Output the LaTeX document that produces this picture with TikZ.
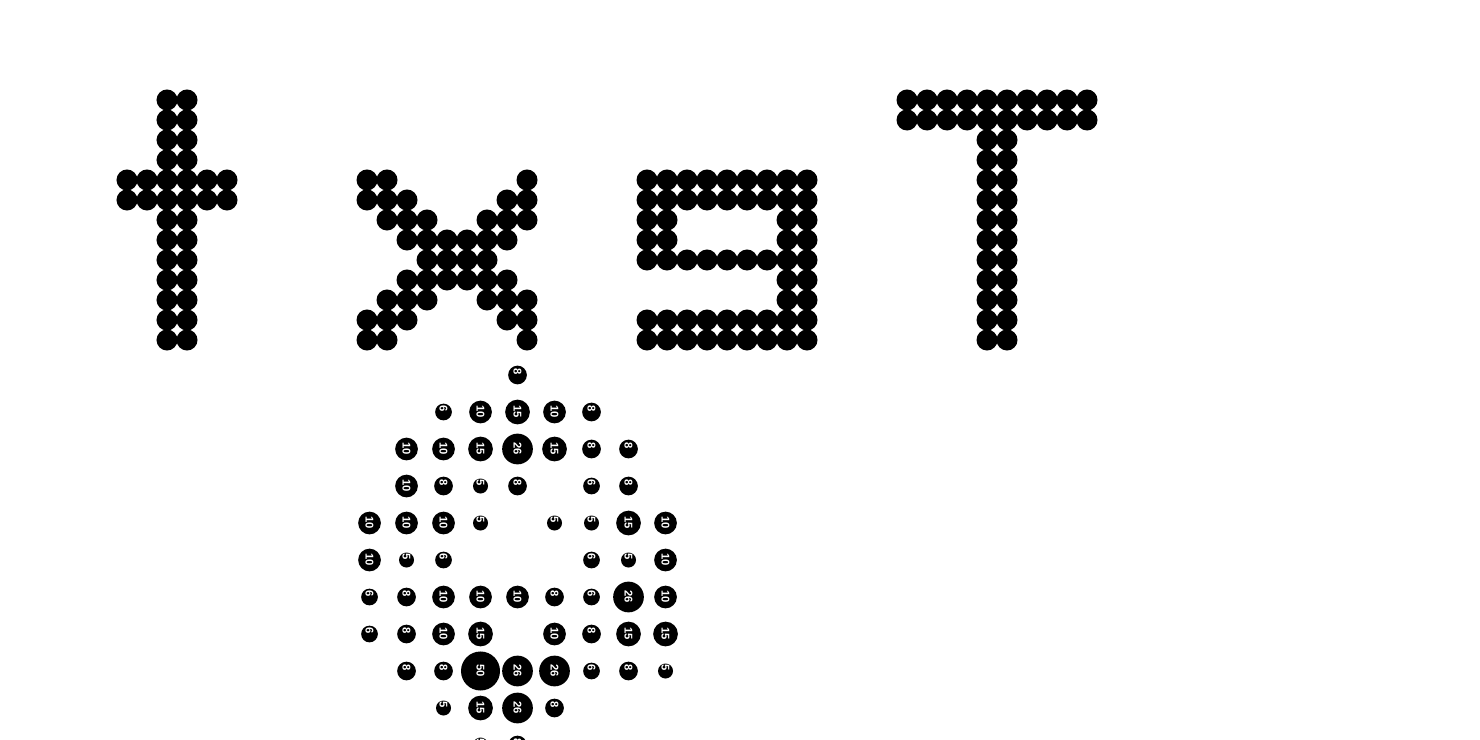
\documentclass[tikz,border=0pt]{standalone}
\usepackage{fontspec}
\setmainfont{Liberation Sans}
\usetikzlibrary{positioning}

\tikzset{
    dot/.style={circle, fill=black, inner sep=0pt, minimum size=0.21cm},
    disc/.style={circle, fill=black, inner sep=0pt},
    disc5/.style={disc, minimum size=0.15cm},
    disc6/.style={disc, minimum size=0.167cm},
    disc8/.style={disc, minimum size=0.187cm},
    disc10/.style={disc, minimum size=0.227cm},
    disc15/.style={disc, minimum size=0.247cm},
    disc26/.style={disc, minimum size=0.307cm},
    disc50/.style={disc, minimum size=0.39cm},
    num/.style={text=white, inner sep=0pt, rotate=-90, anchor=west, font=\fontsize{3.2}{3.2}\bfseries\selectfont},
}

\begin{document}
\begin{tikzpicture}[x=0.01cm, y=-0.01cm]
    \clip (0,0) rectangle (1480,740);

    % letter t
    \foreach \py in {100,120,...,340}
        \foreach \px in {167,187}
            \node[dot] (t-\px-\py) at (\px,\py) {};
    \foreach \py in {180,200}
        \foreach \px in {127,147,207,227}
            \node[dot] (t-\px-\py) at (\px,\py) {};

    % letter x
    \foreach \py/\cols in {180/{367,387,527}, 200/{367,387,407,507,527},
            220/{387,407,427,487,507,527}, 240/{407,427,447,467,487,507},
            260/{427,447,467,487}, 280/{407,427,447,467,487,507},
            300/{387,407,427,487,507,527}, 320/{367,387,407,507,527},
            340/{367,387,527}}
        \foreach \px in \cols
            \node[dot] (x-\px-\py) at (\px,\py) {};

    % letter 9
    \foreach \py/\cols in {180/{647,667,...,807}, 200/{647,667,...,807},
            220/{647,667,787,807}, 240/{647,667,787,807},
            260/{647,667,...,807}, 280/{787,807}, 300/{787,807},
            320/{647,667,...,807}, 340/{647,667,...,807}}
        \foreach \px in \cols
            \node[dot] (n-\px-\py) at (\px,\py) {};

    % letter T
    \foreach \py in {100,120}
        \foreach \px in {907,927,...,1087}
            \node[dot] (T-\px-\py) at (\px,\py) {};
    \foreach \py in {140,160,...,340}
        \foreach \px in {987,1007}
            \node[dot] (T-\px-\py) at (\px,\py) {};

    % weighted discs
    \foreach \py/\row in {375/{517/8},
            412/{443/6,480/10,517/15,554/10,591/8},
            449/{406/10,443/10,480/15,517/26,554/15,591/8,628/8},
            486/{406/10,443/8,480/5,517/8,591/6,628/8},
            523/{369/10,406/10,443/10,480/5,554/5,591/5,628/15,665/10},
            560/{369/10,406/5,443/6,591/6,628/5,665/10},
            597/{369/6,406/8,443/10,480/10,517/10,554/8,591/6,628/26,665/10},
            634/{369/6,406/8,443/10,480/15,554/10,591/8,628/15,665/15},
            671/{406/8,443/8,480/50,517/26,554/26,591/6,628/8,665/5},
            708/{443/5,480/15,517/26,554/8},
            745/{480/5,517/8}}
        \foreach \px/\val in \row {
            \node[disc\val] (d-\px-\py) at (\px.5,\py) {};
            \node[num] (l-\px-\py) at ([yshift=0.07cm]d-\px-\py.center) {\val};
        }
\end{tikzpicture}
\end{document}
